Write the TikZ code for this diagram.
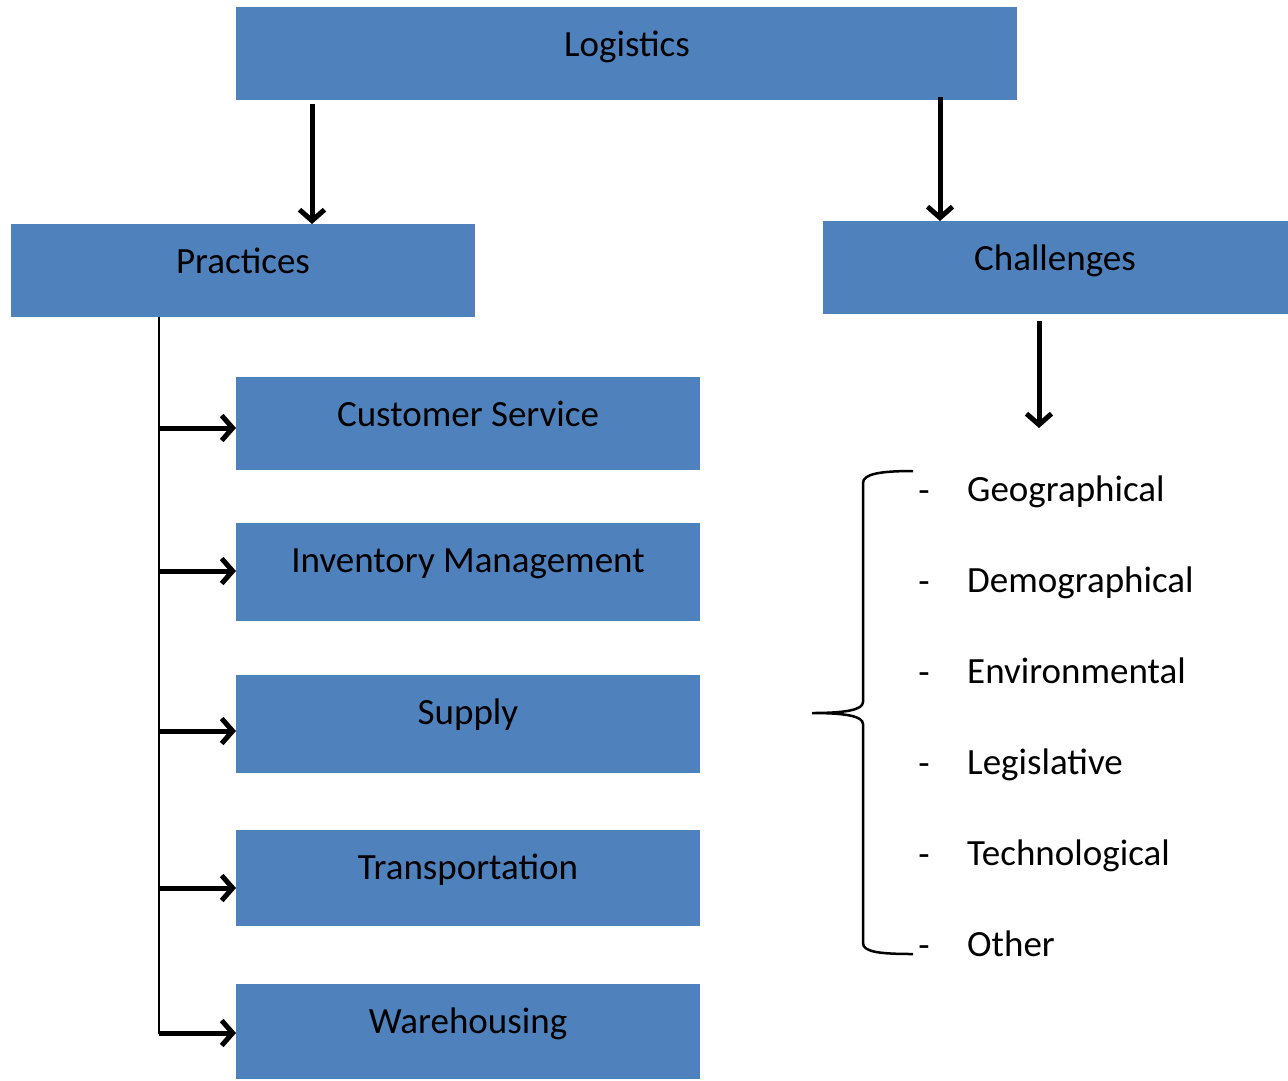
\documentclass[tikz,border=0pt]{standalone}
\usepackage{fontspec}
\setmainfont{Carlito}
\usetikzlibrary{arrows.meta}
\definecolor{boxblue}{HTML}{4F81BD}
\begin{document}
\begin{tikzpicture}[x=1pt,y=-1pt,
  box/.style={fill=boxblue,draw=none,inner sep=0pt,outer sep=0pt},
  lbl/.style={inner sep=0pt,anchor=base,font=\fontsize{37}{44}\selectfont},
  arr/.style={line width=5pt,-{Straight Barb[length=11pt,width=25pt]}},
  feed/.style={line width=2pt}]
\useasboundingbox (0,0) rectangle (1288,1080);

% top level
\node[box,minimum width=781pt,minimum height=93pt] (log) at (626.5,53.5) {};
\node[lbl] (logt) at (627,56) {Logistics};

% second level
\node[box,minimum width=464pt,minimum height=93pt] (prac) at (243,270.5) {};
\node[lbl] (pract) at (243,273) {Practices};
\node[box,minimum width=465pt,minimum height=93pt] (chal) at (1055.5,267.5) {};
\node[lbl] (chalt) at (1055,270) {Challenges};

% practices
\node[box,minimum width=464pt,minimum height=93pt] (cs) at (468,423.5) {};
\node[lbl] (cst) at (468,426) {Customer Service};
\node[box,minimum width=464pt,minimum height=98pt] (inv) at (468,572) {};
\node[lbl] (invt) at (468,572) {Inventory Management};
\node[box,minimum width=464pt,minimum height=98pt] (sup) at (468,724) {};
\node[lbl] (supt) at (468,724) {Supply};
\node[box,minimum width=464pt,minimum height=96pt] (tra) at (468,878) {};
\node[lbl] (trat) at (468,879) {Transportation};
\node[box,minimum width=464pt,minimum height=95pt] (war) at (468,1031.5) {};
\node[lbl] (wart) at (468,1033) {Warehousing};

% arrows from the top box
\coordinate (a1) at (312,104);
\draw[arr] (a1) -- (a1 |- prac.north);
\coordinate (a2) at (940,97);
\draw[arr] (a2) -- (a2 |- chal.north);
\coordinate (a3) at (1039,321);
\coordinate (a3e) at (1039,428);
\draw[arr] (a3) -- (a3e);

% practices feeder line
\coordinate (fd) at (159,317);
\coordinate (fb) at (159,1034);
\draw[feed] (fd) -- (fb);
\foreach \n/\yy in {cs/428,inv/571,sup/731,tra/888,war/1033}{
  \coordinate (f\n) at (159,\yy);
  \draw[arr] (f\n) -- (f\n -| \n.west);
}

% brace
\coordinate (bt) at (913,471);
\coordinate (bm) at (812,713);
\coordinate (bb) at (913,954);
\draw[line width=2.5pt]
  (bt) .. controls (880,471) and (863,474) .. (863,483) -- (863,702)
  .. controls (863,710) and (845,713) .. (bm)
  .. controls (845,713) and (863,716) .. (863,724) -- (863,943)
  .. controls (863,952) and (880,954) .. (bb);

% challenge list
\foreach \i/\t/\yy in {1/Geographical/501,2/Demographical/592,3/Environmental/683,4/Legislative/774,5/Technological/865,6/Other/956}{
  \node[lbl] (d\i) at (924,\yy+1) {-};
  \node[lbl,anchor=base west] (c\i) at (967,\yy) {\t};
}
\end{tikzpicture}
\end{document}
